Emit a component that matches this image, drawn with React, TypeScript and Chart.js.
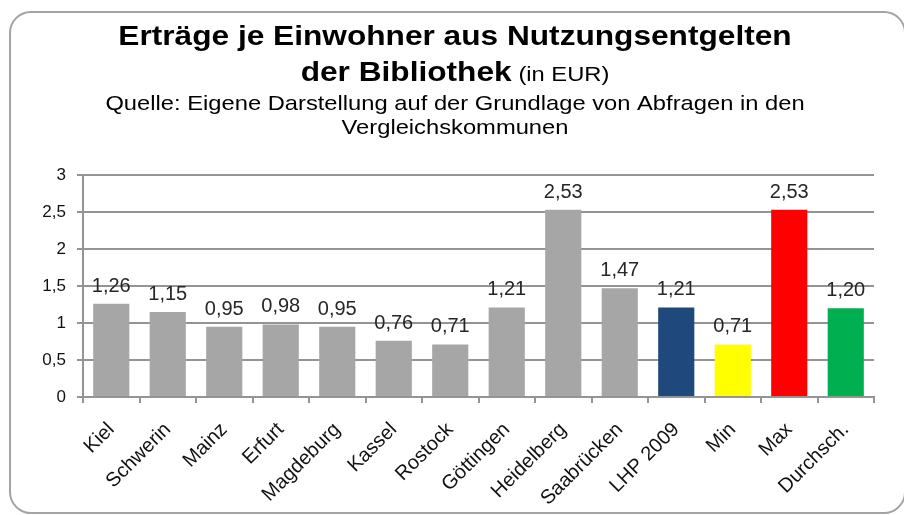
import React, { useEffect, useRef } from "react";
import { Chart, registerables } from "chart.js";

Chart.register(...registerables);

const TITLE_LINE1 = "Erträge je Einwohner aus Nutzungsentgelten";
const TITLE_LINE2_BOLD = "der Bibliothek";
const TITLE_LINE2_UNIT = "(in EUR)";
const SUBTITLE_LINE1 = "Quelle: Eigene Darstellung auf der Grundlage von Abfragen in den";
const SUBTITLE_LINE2 = "Vergleichskommunen";

const CATEGORIES = [
  "Kiel", "Schwerin", "Mainz", "Erfurt", "Magdeburg", "Kassel", "Rostock",
  "Göttingen", "Heidelberg", "Saabrücken", "LHP 2009", "Min", "Max", "Durchsch.",
];
const VALUES = [1.26, 1.15, 0.95, 0.98, 0.95, 0.76, 0.71, 1.21, 2.53, 1.47, 1.21, 0.71, 2.53, 1.2];
const BAR_COLORS = [
  "#A6A6A6", "#A6A6A6", "#A6A6A6", "#A6A6A6", "#A6A6A6", "#A6A6A6", "#A6A6A6",
  "#A6A6A6", "#A6A6A6", "#A6A6A6", "#1F497D", "#FFFF00", "#FF0000", "#00B050",
];
const Y_MIN = 0;
const Y_MAX = 3;
const Y_STEP = 0.5;

const FONT = "'Liberation Sans', Arial, sans-serif";
const GRID = "#949494";

const fmt = (v: number, digits?: number) =>
  (digits === undefined ? String(v) : v.toFixed(digits)).replace(".", ",");

const titlePlugin = {
  id: "titleText",
  afterDraw(chart: any) {
    const ctx = chart.ctx as CanvasRenderingContext2D;
    const cx = 455;
    const sx = 1.13;
    const drawLine = (parts: { text: string; font: string }[], y: number, gap = 0) => {
      let total = 0;
      const widths = parts.map((p) => {
        ctx.font = p.font;
        const w = ctx.measureText(p.text).width;
        total += w;
        return w;
      });
      total += gap * (parts.length - 1);
      let x = cx - (total * sx) / 2;
      parts.forEach((p, i) => {
        ctx.save();
        ctx.font = p.font;
        ctx.translate(x, y);
        ctx.scale(sx, 1);
        ctx.fillText(p.text, 0, 0);
        ctx.restore();
        x += (widths[i] + gap) * sx;
      });
    };
    ctx.save();
    ctx.fillStyle = "#000";
    ctx.textAlign = "left";
    ctx.textBaseline = "alphabetic";
    drawLine([{ text: TITLE_LINE1, font: `bold 28px ${FONT}` }], 45);
    drawLine(
      [
        { text: TITLE_LINE2_BOLD, font: `bold 28px ${FONT}` },
        { text: TITLE_LINE2_UNIT, font: `21px ${FONT}` },
      ],
      81,
      6
    );
    drawLine([{ text: SUBTITLE_LINE1, font: `21px ${FONT}` }], 110);
    drawLine([{ text: SUBTITLE_LINE2, font: `21px ${FONT}` }], 134);
    ctx.restore();
  },
};

const valueLabelPlugin = {
  id: "valueLabels",
  afterDatasetsDraw(chart: any) {
    const ctx = chart.ctx as CanvasRenderingContext2D;
    const meta = chart.getDatasetMeta(0);
    const data = chart.data.datasets[0].data as number[];
    ctx.save();
    ctx.font = `20px ${FONT}`;
    ctx.fillStyle = "#262626";
    ctx.textAlign = "center";
    ctx.textBaseline = "alphabetic";
    meta.data.forEach((el: any, i: number) => {
      ctx.fillText(fmt(data[i], 2), el.x, el.y - 12);
    });
    ctx.restore();
  },
};

export default function App() {
  const ref = useRef<HTMLCanvasElement | null>(null);

  useEffect(() => {
    if (!ref.current) return;
    const chart = new Chart(ref.current, {
      type: "bar",
      data: {
        labels: CATEGORIES,
        datasets: [
          {
            data: VALUES,
            backgroundColor: BAR_COLORS,
            borderWidth: 0,
            barPercentage: 0.64,
            categoryPercentage: 1,
          },
        ],
      },
      options: {
        animation: false,
        responsive: false,
        devicePixelRatio: 1,
        layout: { padding: { top: 175, right: 30, left: 0, bottom: 0 } },
        plugins: {
          legend: { display: false },
          title: { display: false },
          tooltip: { enabled: false },
        },
        scales: {
          x: {
            offset: true,
            grid: {
              offset: true,
              drawOnChartArea: false,
              drawTicks: true,
              tickLength: 6,
              color: GRID,
              lineWidth: 2,
            },
            border: { display: true, color: GRID, width: 2 },
            ticks: {
              autoSkip: false,
              maxRotation: 45,
              minRotation: 45,
              padding: 15,
              color: "#111",
              font: { family: FONT, size: 20 },
            },
            afterFit(scale: any) {
              scale.height = 118;
            },
          },
          y: {
            min: Y_MIN,
            max: Y_MAX,
            grid: {
              color: GRID,
              lineWidth: 2,
              drawTicks: true,
              tickLength: 6,
            },
            border: { display: true, color: GRID, width: 2 },
            ticks: {
              stepSize: Y_STEP,
              padding: 11,
              color: "#111",
              font: { family: FONT, size: 17 },
              callback: (v: any) => fmt(Number(v)),
            },
            afterFit(scale: any) {
              scale.width = 83;
            },
          },
        },
      },
      plugins: [titlePlugin, valueLabelPlugin],
    } as any);
    return () => chart.destroy();
  }, []);

  return (
    <div
      style={{
        position: "absolute",
        left: 0,
        top: 0,
        width: 904,
        height: 515,
        overflow: "hidden",
        background: "#fff",
      }}
    >
      <div
        style={{
          position: "absolute",
          left: 9,
          top: 11,
          width: 897,
          height: 503,
          boxSizing: "border-box",
          border: "2px solid #a3a3a3",
          borderRadius: 22,
        }}
      />
      <canvas
        ref={ref}
        width={904}
        height={515}
        style={{ position: "absolute", left: 0, top: 0, width: 904, height: 515 }}
      />
    </div>
  );
}
